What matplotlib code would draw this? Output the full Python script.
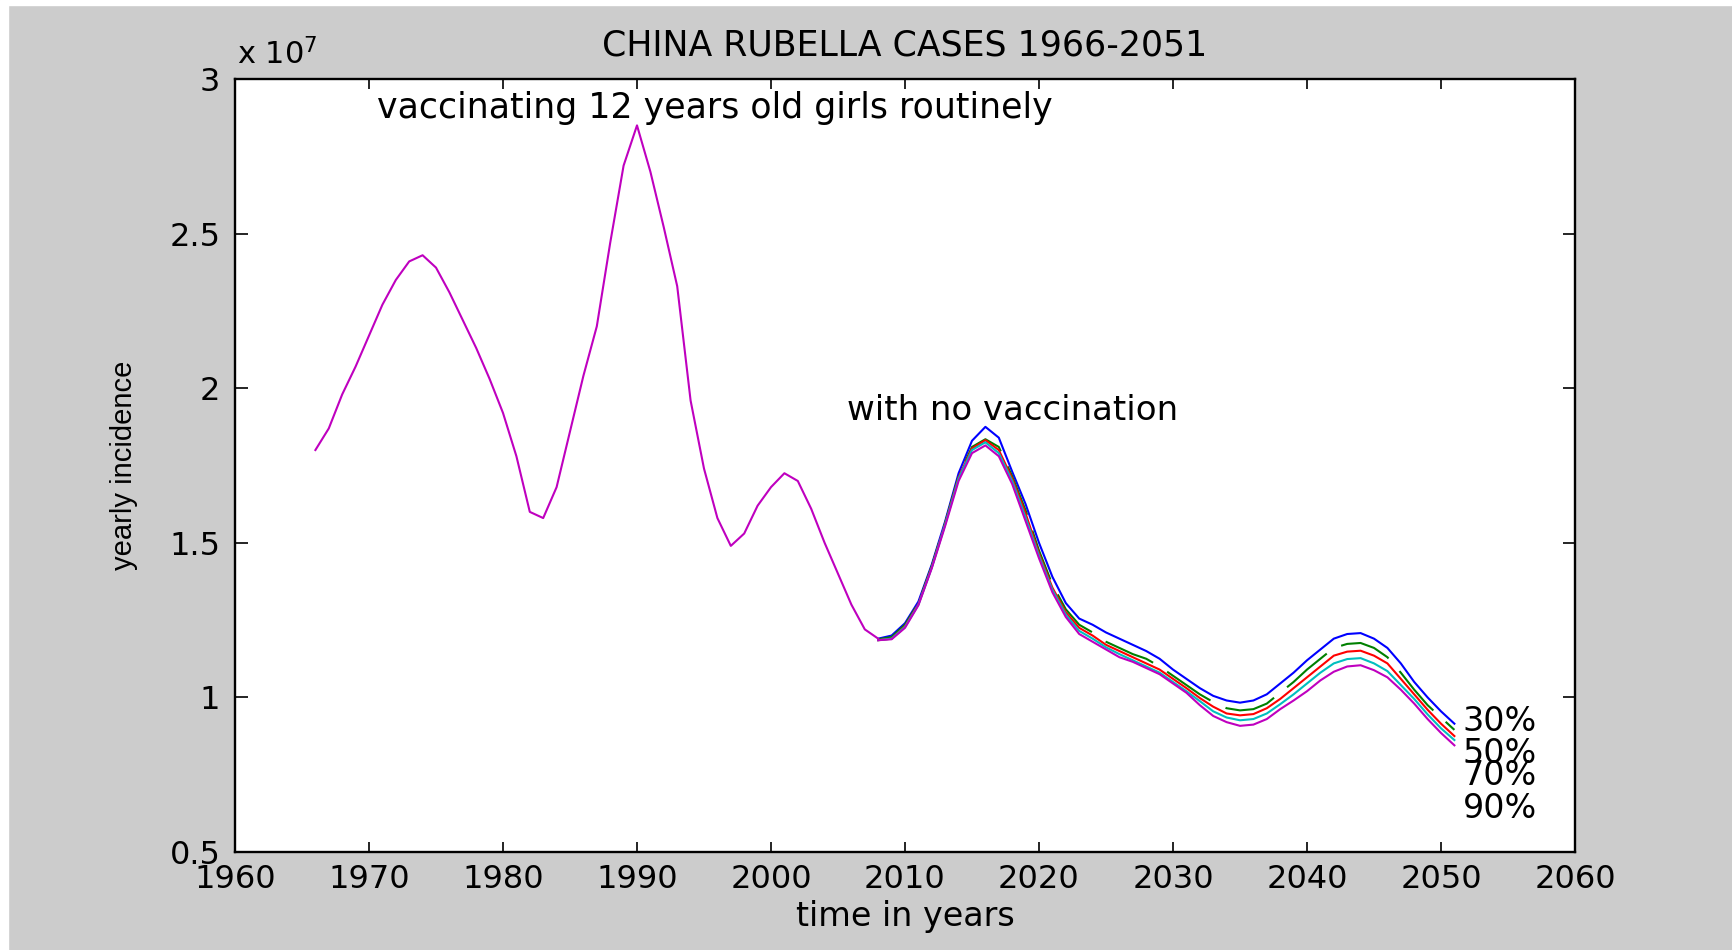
import matplotlib.pyplot as plt
from matplotlib.patches import Rectangle

# yearly incidence, in units of 1e7 cases
hist_years = list(range(1966, 2009))
hist_cases = [1.80, 1.87, 1.98, 2.07, 2.17, 2.27, 2.35, 2.41, 2.43, 2.39,
              2.31, 2.22, 2.13, 2.03, 1.92, 1.78, 1.60, 1.58, 1.68, 1.86,
              2.04, 2.20, 2.47, 2.72, 2.85, 2.70, 2.52, 2.33, 1.96, 1.74,
              1.58, 1.49, 1.53, 1.62, 1.68, 1.725, 1.70, 1.61, 1.50, 1.40,
              1.30, 1.22, 1.19]

proj_years = list(range(2008, 2052))
cases_none = [1.19, 1.20, 1.24, 1.31, 1.43, 1.57, 1.725, 1.83, 1.875, 1.84,
              1.73, 1.625, 1.50, 1.39, 1.305, 1.255, 1.235, 1.21, 1.19, 1.17,
              1.15, 1.125, 1.09, 1.06, 1.03, 1.005, 0.99, 0.983, 0.99, 1.01,
              1.045, 1.08, 1.12, 1.155, 1.19, 1.205, 1.208, 1.19, 1.16, 1.11,
              1.05, 1.00, 0.955, 0.915]
cases_30 = [1.188, 1.195, 1.235, 1.305, 1.425, 1.565, 1.715, 1.81, 1.835, 1.81,
            1.715, 1.605, 1.475, 1.365, 1.285, 1.235, 1.21, 1.18, 1.16, 1.14,
            1.125, 1.10, 1.07, 1.04, 1.01, 0.985, 0.965, 0.958, 0.962, 0.98,
            1.015, 1.05, 1.09, 1.125, 1.16, 1.173, 1.176, 1.16, 1.13, 1.08,
            1.025, 0.975, 0.935, 0.895]
cases_50 = [1.185, 1.19, 1.23, 1.302, 1.422, 1.562, 1.712, 1.805, 1.832, 1.80,
            1.708, 1.595, 1.465, 1.355, 1.275, 1.225, 1.20, 1.17, 1.15, 1.13,
            1.11, 1.09, 1.06, 1.03, 0.998, 0.97, 0.948, 0.942, 0.946, 0.965,
            0.995, 1.03, 1.065, 1.10, 1.135, 1.148, 1.151, 1.135, 1.11, 1.06,
            1.01, 0.96, 0.915, 0.875]
cases_70 = [1.185, 1.19, 1.228, 1.30, 1.42, 1.56, 1.708, 1.80, 1.825, 1.79,
            1.70, 1.582, 1.458, 1.348, 1.268, 1.215, 1.19, 1.162, 1.14, 1.12,
            1.10, 1.08, 1.05, 1.02, 0.988, 0.955, 0.935, 0.926, 0.93, 0.948,
            0.978, 1.01, 1.045, 1.08, 1.11, 1.124, 1.127, 1.11, 1.085, 1.04,
            0.995, 0.945, 0.90, 0.862]
cases_90 = [1.185, 1.188, 1.225, 1.298, 1.418, 1.555, 1.70, 1.79, 1.815, 1.78,
            1.69, 1.57, 1.45, 1.34, 1.26, 1.205, 1.18, 1.155, 1.13, 1.115,
            1.095, 1.075, 1.045, 1.015, 0.975, 0.94, 0.92, 0.908, 0.912, 0.93,
            0.962, 0.99, 1.02, 1.055, 1.083, 1.10, 1.104, 1.088, 1.065, 1.025,
            0.98, 0.93, 0.885, 0.845]

coverage_labels = ['30%', '50%', '70%', '90%']
label_y = [0.892, 0.788, 0.717, 0.610]

blue, green, red, cyan, magenta = '#0000ff', '#008000', '#ff0000', '#00bfbf', '#bf00bf'

fig = plt.figure(figsize=(17.32, 9.5), dpi=100, facecolor='#cccccc')
fig.add_artist(Rectangle((0, 0), 8 / 1732, 1, transform=fig.transFigure,
                         color='white', zorder=0))
fig.add_artist(Rectangle((0, 1 - 5 / 950), 1, 5 / 950, transform=fig.transFigure,
                         color='white', zorder=0))

ax = fig.add_axes([235 / 1732, 1 - 852 / 950, 1340 / 1732, 773 / 950])
ax.set_facecolor('white')

lw = 1.5
ax.plot(proj_years, cases_none, color=blue, lw=lw)
ax.plot(proj_years, cases_30, color=green, lw=lw, dashes=(25, 8))
ax.plot(proj_years, cases_50, color=red, lw=lw)
ax.plot(proj_years, cases_70, color=cyan, lw=lw)
ax.plot(proj_years, cases_90, color=magenta, lw=lw)
ax.plot(hist_years, hist_cases, color=magenta, lw=lw)

ax.set_xlim(1960, 2060)
ax.set_ylim(0.5, 3)
ax.set_xticks(range(1960, 2061, 10))
ax.set_yticks([0.5, 1, 1.5, 2, 2.5, 3])
ax.set_yticklabels(['0.5', '1', '1.5', '2', '2.5', '3'])
ax.tick_params(direction='in', top=True, right=True, labelsize=23, width=1.2,
               colors='black')
ax.tick_params(axis='x', length=7.5, pad=9)
ax.tick_params(axis='y', length=9, pad=10.5)
for s in ax.spines.values():
    s.set_linewidth(1.7)

ax.set_title('CHINA RUBELLA CASES 1966-2051', fontsize=25, pad=17)
ax.set_xlabel('time in years', fontsize=24)
ax.xaxis.set_label_coords(0.5, -0.083)
ax.xaxis.label.set_va('center')
ax.set_ylabel('yearly incidence', fontsize=21, family='Liberation Sans')
ax.yaxis.set_label_coords(-0.083, 0.5)
ax.yaxis.label.set_va('center')

fig.text(237 / 1732, 1 - 64 / 950, r'x 10$^{7}$', fontsize=22, va='baseline')

ax.text(1970.6, 2.874, 'vaccinating 12 years old girls routinely', fontsize=25,
        va='baseline')
ax.text(2005.7, 1.897, 'with no vaccination', fontsize=24.5, va='baseline')
for lab, y in zip(coverage_labels, label_y):
    ax.text(2051.6, y, lab, fontsize=24, va='baseline')

fig.savefig('out.png', dpi=100, facecolor=fig.get_facecolor())
